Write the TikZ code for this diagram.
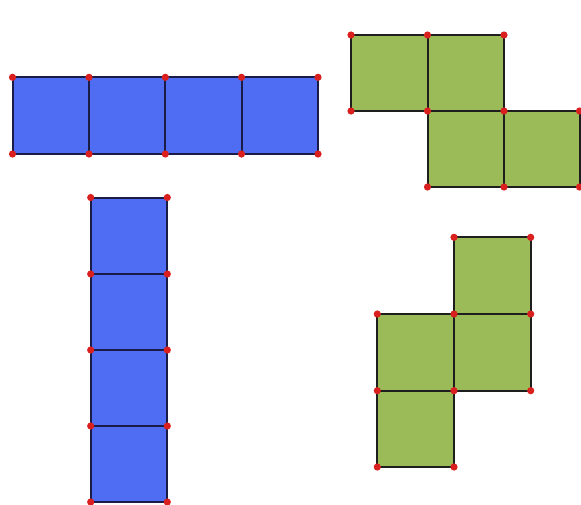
\documentclass[tikz,border=0pt]{standalone}
\definecolor{bluefill}{HTML}{4F6DF2}
\definecolor{blueline}{HTML}{1B1B48}
\definecolor{greenfill}{HTML}{9BBB59}
\definecolor{greenline}{HTML}{1E1E1E}
\definecolor{dotred}{HTML}{D9201E}
\begin{document}
\begin{tikzpicture}[x=0.5pt,y=-0.5pt,
  bluecell/.style={fill=bluefill,draw=blueline,line width=1pt},
  greencell/.style={fill=greenfill,draw=greenline,line width=1pt},
  dotmark/.style={fill=dotred}]
\useasboundingbox (0,0) rectangle (581,504);
% blue horizontal
\foreach \a/\b in {12.5/89,89/165.3,165.3/241.5,241.5/318}
  \draw[bluecell] (\a,77.3) rectangle (\b,154);
\foreach \a in {12.5,89,165.3,241.5,318}
  \foreach \y in {77.3,154}
    \fill[dotmark] (\a,\y) circle[radius=1.8pt];
% blue vertical
\foreach \a/\b in {197.5/274,274/350,350/426,426/502}
  \draw[bluecell] (90.7,\a) rectangle (167.3,\b);
\foreach \y in {197.5,274,350,426,502}
  \foreach \a in {90.7,167.3}
    \fill[dotmark] (\a,\y) circle[radius=1.8pt];
% green top
\draw[greencell] (351,35) rectangle (427.5,111);
\draw[greencell] (427.5,35) rectangle (504,111);
\draw[greencell] (427.5,111) rectangle (504,187);
\draw[greencell] (504,111) rectangle (579.5,187);
\foreach \p in {(351,35),(427.5,35),(504,35),(351,111),(427.5,111),(504,111),(579.5,111),(427.5,187),(504,187),(579.5,187)}
  \fill[dotmark] \p circle[radius=1.8pt];
% green bottom
\draw[greencell] (454,237.3) rectangle (530.7,314);
\draw[greencell] (377.3,314) rectangle (454,390.7);
\draw[greencell] (454,314) rectangle (530.7,390.7);
\draw[greencell] (377.3,390.7) rectangle (454,467);
\foreach \p in {(454,237.3),(530.7,237.3),(377.3,314),(454,314),(530.7,314),(377.3,390.7),(454,390.7),(530.7,390.7),(377.3,467),(454,467)}
  \fill[dotmark] \p circle[radius=1.8pt];
\end{tikzpicture}
\end{document}
